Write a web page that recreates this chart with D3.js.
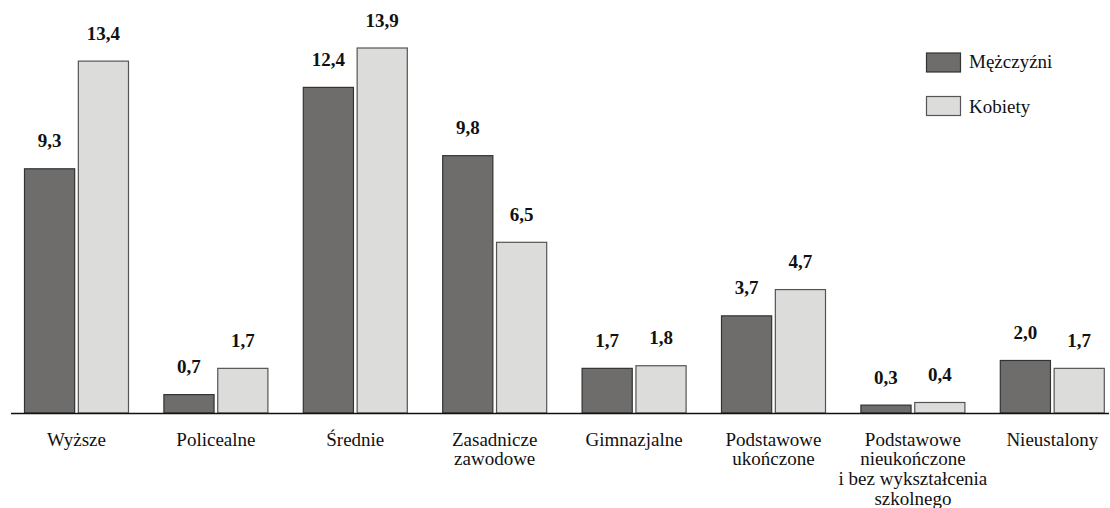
<!DOCTYPE html>
<html><head><meta charset="utf-8">
<script src="https://cdn.jsdelivr.net/npm/d3@7"></script>
<style>body{margin:0;background:#fff}svg{display:block}</style>
</head><body><svg id="c" width="1110" height="508"></svg>
<script>
const categories = [["Wyższe"],["Policealne"],["Średnie"],["Zasadnicze","zawodowe"],["Gimnazjalne"],["Podstawowe","ukończone"],["Podstawowe","nieukończone","i bez wykształcenia","szkolnego"],["Nieustalony"]];
const seriesNames = ["Mężczyźni","Kobiety"];
const men = [9.3,0.7,12.4,9.8,1.7,3.7,0.3,2.0];
const women = [13.4,1.7,13.9,6.5,1.8,4.7,0.4,1.7];
const colors = ["#6e6d6b","#dcdcdb"];
const strokes = ["#333","#555"];
const FONT = "'Liberation Serif'";

const svg = d3.select("#c");
const base = 413;
const keys = categories.map((c,i)=>i);
const x = d3.scaleBand().domain(keys).range([6.8,1122]).padding(0);
const inner = d3.scaleBand().domain([0,1]).range([0,105]).paddingInner(0.05);
const y = d3.scaleLinear().domain([0,13.9]).range([base, base-365]);
const fmt = v => d3.format(".1f")(v).replace(".",",");

const data = [];
keys.forEach(i=>{[men,women].forEach((s,j)=>data.push({i,j,v:s[i]}));});

const bx = d => x(d.i) + x.bandwidth()/2 - 52.5 + inner(d.j);
svg.selectAll("rect.bar").data(data).enter().append("rect")
  .attr("x", d=>bx(d)+0.5).attr("y", d=>y(d.v))
  .attr("width", inner.bandwidth()-1).attr("height", d=>base-y(d.v))
  .attr("fill", d=>colors[d.j]).attr("stroke", d=>strokes[d.j]).attr("stroke-width",1.2);

svg.selectAll("text.val").data(data).enter().append("text")
  .attr("x", d=>bx(d)+inner.bandwidth()/2).attr("y", d=>y(d.v)-21.5)
  .attr("text-anchor","middle").attr("font-weight","bold").attr("font-size",19).attr("fill","#111")
  .style("font-family",FONT)
  .text(d=>fmt(d.v));

svg.append("line").attr("x1",11).attr("x2",1109).attr("y1",base+0.5).attr("y2",base+0.5)
  .attr("stroke","#111").attr("stroke-width",1.5);

keys.forEach(i=>{
  const t = svg.append("text").attr("x", x(i)+x.bandwidth()/2).attr("y",445.5)
    .attr("text-anchor","middle").attr("font-size",19).attr("fill","#111").style("font-family",FONT);
  categories[i].forEach((l,k)=>t.append("tspan").attr("x",x(i)+x.bandwidth()/2).attr("dy",k?19.8:0).text(l));
});

const lg = svg.append("g");
seriesNames.forEach((n,j)=>{
  lg.append("rect").attr("x",926.5).attr("y",53+43.5*j).attr("width",34).attr("height",19)
    .attr("fill",colors[j]).attr("stroke",strokes[j]).attr("stroke-width",1.2);
  lg.append("text").attr("x",969).attr("y",68+45*j).attr("font-size",19).attr("fill","#111")
    .style("font-family",FONT).text(n);
});
</script></body></html>
